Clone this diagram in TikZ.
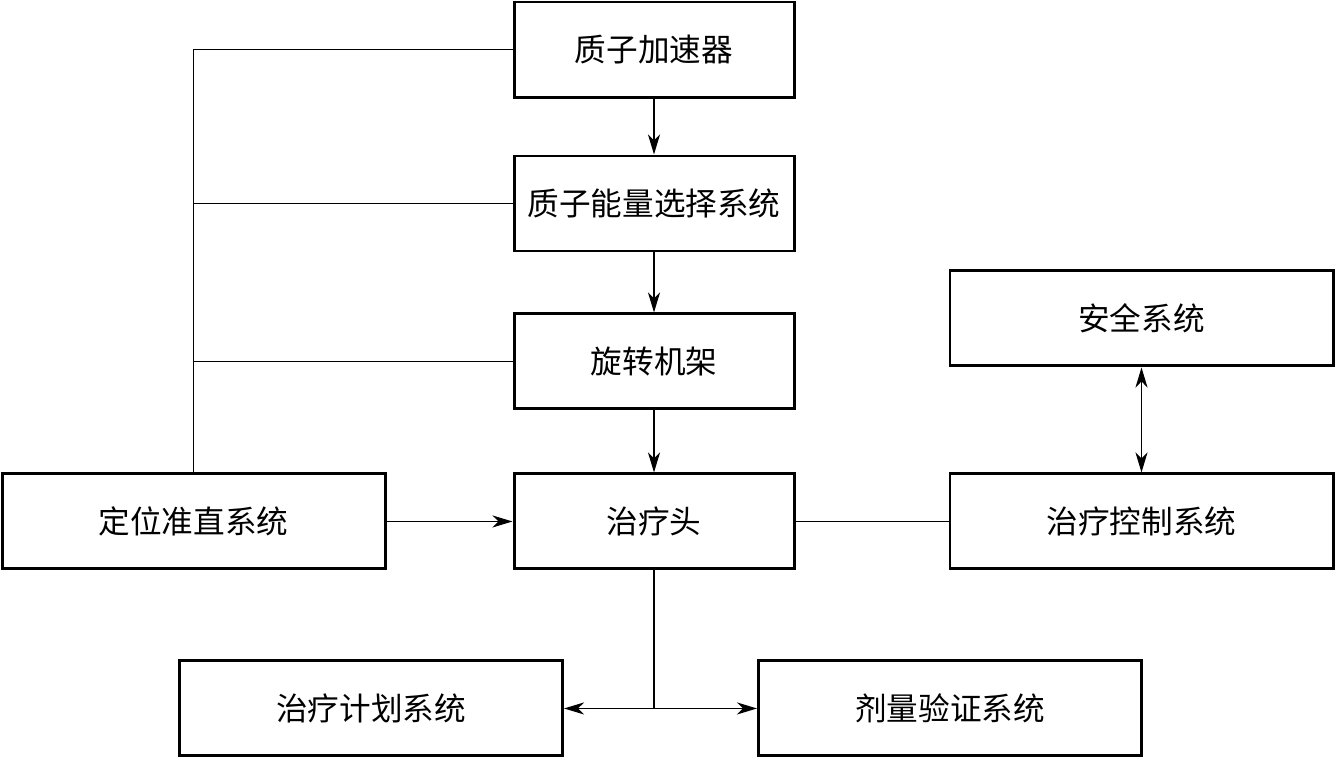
\documentclass[tikz,border=0pt]{standalone}
\usepackage{fontspec}
\setmainfont{Noto Sans CJK SC}
\usetikzlibrary{positioning, arrows.meta, calc}

\begin{document}
\begin{tikzpicture}[
    node distance=1.2cm and 2.6cm,
    every node/.style={font=\fontsize{18}{21}\selectfont},
    unit/.style={draw, line width=1.7pt, minimum width=5.6cm,
                 minimum height=1.9cm, inner sep=0pt},
    wideunit/.style={unit, minimum width=7.66cm},
    arrow/.style={-{Stealth[length=4mm, width=2.4mm, inset=1.2mm]}, line width=0.95pt},
    twoway/.style={{Stealth[length=4mm, width=2.4mm, inset=1.2mm]}-{Stealth[length=4mm, width=2.4mm, inset=1.2mm]}, line width=0.95pt},
    link/.style={line width=0.95pt},
]
\useasboundingbox (0,0) rectangle (26.76,-15.26);

% Beam line
\node[unit] (accel) at (13.08,-0.99) {质子加速器};
\node[unit, below=1.12cm of accel] (esel) {质子能量选择系统};
\node[unit, below=1.2cm of esel] (gantry) {旋转机架};
\node[unit, below=1.24cm of gantry] (head) {治疗头};

% Side systems
\node[wideunit, left=2.52cm of head] (align) {定位准直系统};
\node[wideunit, right=3.06cm of head] (ctrl) {治疗控制系统};
\node[wideunit, above=2.1cm of ctrl] (safety) {安全系统};

% Bottom systems
\node[wideunit, anchor=north east] (plan) at ($(head.south)+(-1.8,-1.78)$) {治疗计划系统};
\node[wideunit, anchor=north west] (dose) at ($(head.south)+(2.06,-1.78)$) {剂量验证系统};

% Arrows
\draw[arrow] (accel) -- (esel);
\draw[arrow] (esel) -- (gantry);
\draw[arrow] (gantry) -- (head);
\draw[arrow] (align) -- (head);
\draw[link] (head) -- (ctrl);
\draw[twoway] (safety) -- (ctrl);
\draw[link] (align.north) |- (accel.west);
\draw[link] (align.north |- esel.west) -- (esel.west);
\draw[link] (align.north |- gantry.west) -- (gantry.west);
\draw[link] (head.south) -- (head.south |- plan.east);
\draw[arrow] (head.south |- plan.east) -- (plan.east);
\draw[arrow] (head.south |- dose.west) -- (dose.west);

\end{tikzpicture}
\end{document}
